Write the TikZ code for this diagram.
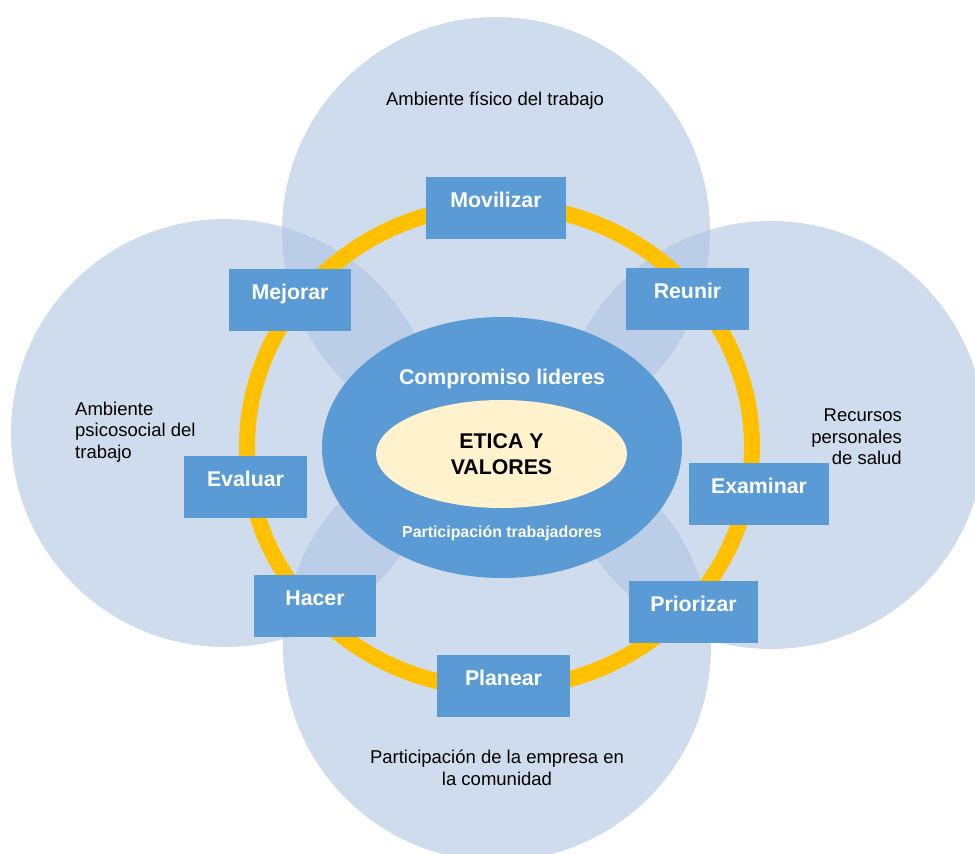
\documentclass[tikz,border=0pt]{standalone}
\usepackage{fontspec}
\setmainfont{Liberation Sans}
\usepackage{xcolor}
\usetikzlibrary{positioning,shapes.geometric}

\definecolor{areablue}{RGB}{175,197,227}
\definecolor{boxblue}{RGB}{91,155,213}
\definecolor{ringgold}{RGB}{255,192,0}
\definecolor{cream}{RGB}{255,242,204}

\begin{document}
\begin{tikzpicture}[x=1pt, y=-1pt, inner sep=0pt,
  area/.style={circle, fill=areablue, fill opacity=0.6, minimum size=428pt},
  stepbox/.style={rectangle, fill=boxblue, text=white, minimum height=62pt, text height=30pt, text depth=32pt, font=\fontsize{21.3}{26}\selectfont\bfseries},
  note/.style={font=\fontsize{18.5}{21.5}\selectfont}]

\useasboundingbox (0,0) rectangle (975,854);

% the four areas
\node[area] (fisico) at (496,231) {};
\node[area] (psico) at (225,433) {};
\node[area] (recursos) at (771,435) {};
\node[area] (comunidad) at (497,647) {};

% cycle ring
\draw[ringgold, line width=16pt] (499.5,447) ellipse [x radius=252.5pt, y radius=241.6pt];

\node[ellipse, fill=boxblue, minimum width=360pt, minimum height=261pt] (lideres) at (502,447.5) {};
\node[ellipse, fill=cream, minimum width=251pt, minimum height=108pt, align=center,
  font=\fontsize{21.3}{26}\selectfont\bfseries] (etica) at (501.5,454) {ETICA Y\\VALORES};
\node[text=white, font=\fontsize{21.3}{26}\selectfont\bfseries] (compromiso) at (502,379) {Compromiso lideres};
\node[text=white, font=\fontsize{15.9}{19}\selectfont\bfseries] (participa) at (502,533) {Participación trabajadores};

% steps
\node[stepbox, minimum width=140pt] (movilizar) at (496,208) {Movilizar};
\node[stepbox, minimum width=123pt] (reunir) at (687.5,299) {Reunir};
\node[stepbox, minimum width=140pt] (examinar) at (759,494) {Examinar};
\node[stepbox, minimum width=129pt] (priorizar) at (693.5,612) {Priorizar};
\node[stepbox, minimum width=133pt] (planear) at (503.5,686) {Planear};
\node[stepbox, minimum width=122pt] (hacer) at (315,606) {Hacer};
\node[stepbox, minimum width=123pt] (evaluar) at (245.5,487) {Evaluar};
\node[stepbox, minimum width=122pt] (mejorar) at (290,300) {Mejorar};

% area names
\node[note] (fisicotxt) at (495,101) {Ambiente físico del trabajo};
\node[note, align=left, anchor=west] (psicotxt) at (75,432) {Ambiente\\psicosocial del\\trabajo};
\node[note, align=right, anchor=east] (recursostxt) at (902,437) {Recursos\\personales\\de salud};
\node[note, align=center] (comunidadtxt) at (497,768) {Participación de la empresa en\\la comunidad};
\end{tikzpicture}
\end{document}
